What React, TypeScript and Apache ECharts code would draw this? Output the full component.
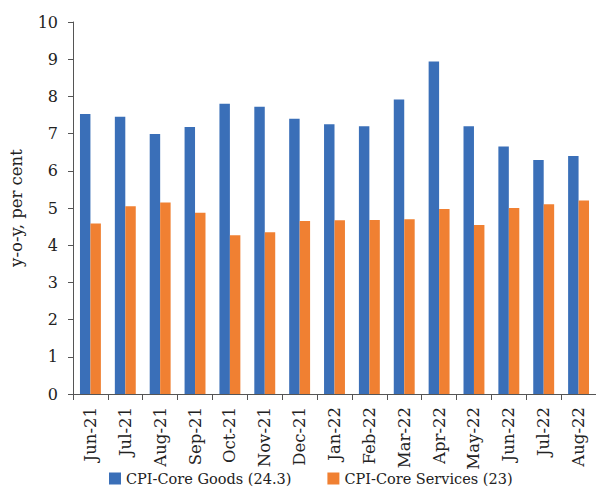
import React, { useEffect, useRef } from "react";
import * as echarts from "echarts";

const categories = ["Jun-21", "Jul-21", "Aug-21", "Sep-21", "Oct-21", "Nov-21", "Dec-21", "Jan-22", "Feb-22", "Mar-22", "Apr-22", "May-22", "Jun-22", "Jul-22", "Aug-22"];
const coreGoods = [7.53, 7.45, 6.99, 7.18, 7.8, 7.72, 7.4, 7.25, 7.2, 7.92, 8.94, 7.2, 6.65, 6.29, 6.4];
const coreServices = [4.58, 5.05, 5.15, 4.87, 4.27, 4.35, 4.65, 4.67, 4.68, 4.7, 4.97, 4.54, 5.0, 5.1, 5.2];
const seriesNames = ["CPI-Core Goods (24.3)", "CPI-Core Services (23)"];

const FONT = "'DejaVu Serif', 'Liberation Serif', serif";

export default function App() {
  const ref = useRef<HTMLDivElement>(null);
  useEffect(() => {
    if (!ref.current) return;
    const chart = echarts.init(ref.current, null, { renderer: "svg" });
    chart.setOption({
      animation: false,
      textStyle: { fontFamily: FONT },
      grid: { left: 70, top: 22, right: -8, bottom: 97 },
      legend: {
        bottom: 0,
        left: 104,
        itemWidth: 12,
        itemHeight: 12,
        itemGap: 36,
        icon: "rect",
        textStyle: { fontFamily: FONT, fontSize: 14.5, color: "#222" },
        data: seriesNames,
      },
      xAxis: {
        type: "category",
        data: categories,
        axisLine: { lineStyle: { color: "#555", width: 1 } },
        axisTick: { show: true, alignWithLabel: false, length: 6, lineStyle: { color: "#555" } },
        axisLabel: { rotate: 90, fontFamily: FONT, fontSize: 16.5, color: "#222", margin: 13, interval: 0 },
      },
      yAxis: {
        type: "value",
        min: 0,
        max: 10,
        interval: 1,
        name: "y-o-y, per cent",
        nameLocation: "middle",
        nameGap: 48,
        nameTextStyle: { fontFamily: FONT, fontSize: 16.5, color: "#222" },
        axisLine: { show: true, lineStyle: { color: "#555", width: 1 } },
        axisTick: { show: true, length: 5, lineStyle: { color: "#555" } },
        splitLine: { show: false },
        axisLabel: { fontFamily: FONT, fontSize: 16, color: "#222", margin: 15 },
      },
      series: [
        {
          name: seriesNames[0],
          type: "bar",
          data: coreGoods,
          barWidth: "30%",
          barGap: "0%",
          itemStyle: { color: "#3A6FB8" },
        },
        {
          name: seriesNames[1],
          type: "bar",
          data: coreServices,
          barWidth: "30%",
          itemStyle: { color: "#F08032" },
        },
      ],
    });
    return () => chart.dispose();
  }, []);
  return <div ref={ref} style={{ width: 596, height: 491, position: "absolute", left: 0, top: 0 }} />;
}
